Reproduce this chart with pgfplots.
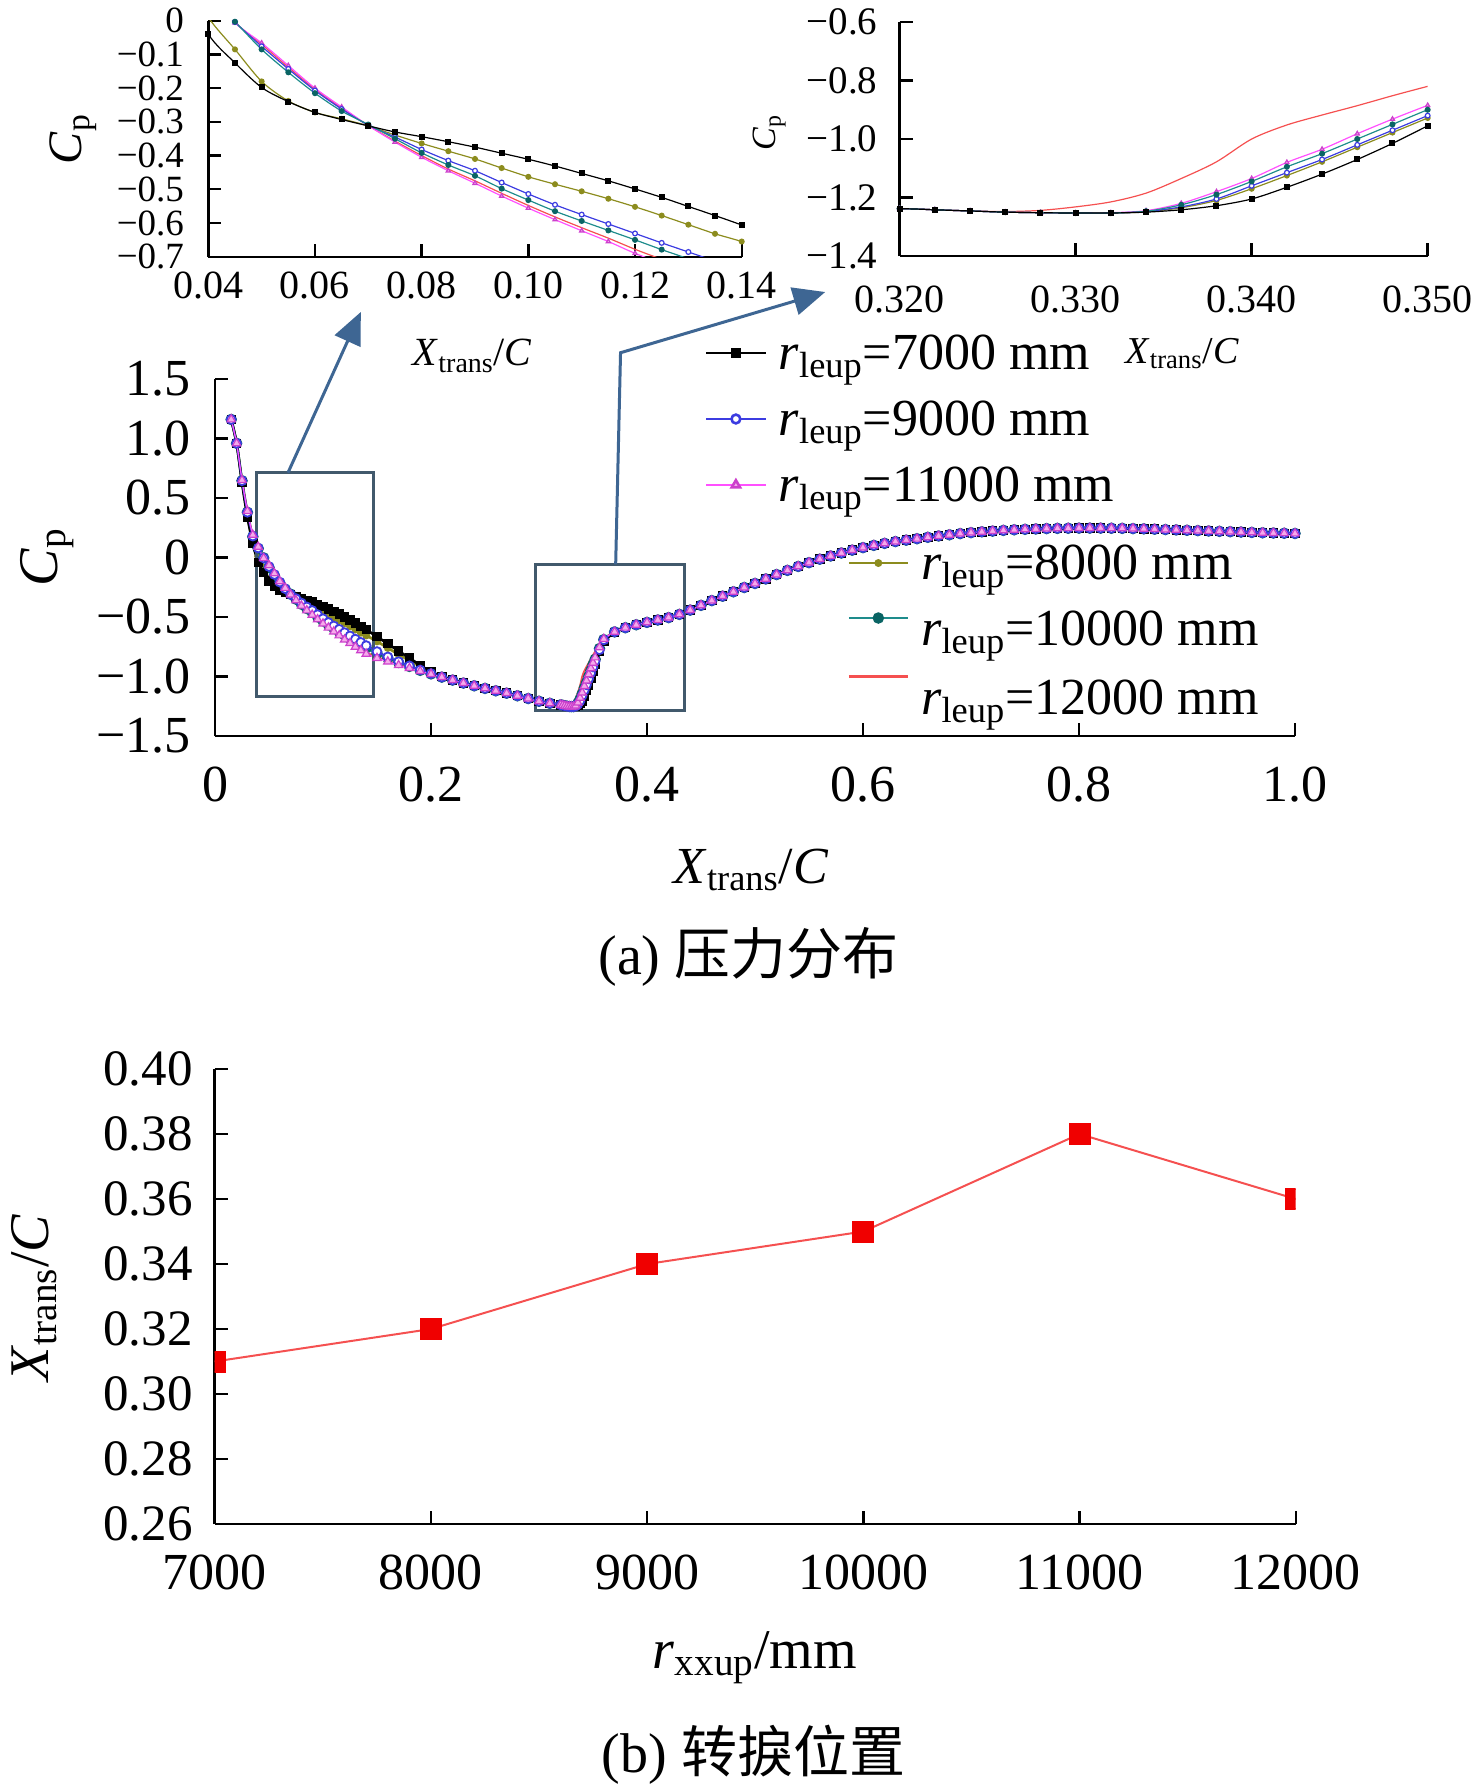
\documentclass[border=0pt]{standalone}
\usepackage{fontspec}
\setmainfont{Liberation Serif}
\newfontfamily\cjk{Noto Sans CJK SC}
\usepackage{pgfplots}
\pgfplotsset{compat=1.18}
\usepackage{pgfplotstable}
\usetikzlibrary{arrows.meta}

\newcommand{\fs}[1]{\fontsize{#1}{#1}\selectfont}

\definecolor{c7}{RGB}{0,0,0}
\definecolor{c8}{RGB}{140,140,30}
\definecolor{c9}{RGB}{60,60,225}
\definecolor{c10}{RGB}{30,140,140}
\definecolor{c10m}{RGB}{10,100,100}
\definecolor{c11}{RGB}{255,80,255}
\definecolor{c11m}{RGB}{245,170,235}
\definecolor{c12}{RGB}{245,80,80}
\definecolor{boxc}{RGB}{65,89,108}
\definecolor{arrc}{RGB}{62,102,147}
\definecolor{redm}{RGB}{240,0,0}

% x, 7000, 8000, 9000, 10000, 11000, 12000 mm
\pgfplotstableread{
x      r7     r8     r9     r10    r11    r12
0.015  1.160  1.160  1.160  1.160  1.160  1.160
0.020  0.960  0.960  0.960  0.960  0.960  0.960
0.025  0.630  0.640  0.645  0.645  0.650  0.650
0.030  0.340  0.360  0.380  0.380  0.390  0.390
0.035  0.120  0.150  0.180  0.175  0.190  0.185
0.040  -0.040 0.010  0.080  0.075  0.090  0.085
0.045  -0.125 -0.085 -0.004 -0.003 -0.006 -0.005
0.050  -0.198 -0.180 -0.076 -0.085 -0.066 -0.070
0.055  -0.240 -0.238 -0.143 -0.153 -0.133 -0.138
0.060  -0.272 -0.272 -0.207 -0.215 -0.200 -0.203
0.065  -0.293 -0.291 -0.262 -0.268 -0.256 -0.259
0.070  -0.312 -0.312 -0.310 -0.308 -0.311 -0.311
0.075  -0.330 -0.339 -0.345 -0.350 -0.360 -0.357
0.080  -0.344 -0.364 -0.382 -0.392 -0.405 -0.400
0.085  -0.359 -0.387 -0.415 -0.428 -0.445 -0.440
0.090  -0.375 -0.410 -0.445 -0.460 -0.482 -0.475
0.095  -0.393 -0.437 -0.480 -0.498 -0.520 -0.512
0.100  -0.411 -0.463 -0.514 -0.532 -0.556 -0.548
0.105  -0.431 -0.485 -0.546 -0.565 -0.590 -0.582
0.110  -0.453 -0.506 -0.575 -0.594 -0.623 -0.614
0.115  -0.475 -0.528 -0.603 -0.622 -0.655 -0.645
0.120  -0.499 -0.552 -0.631 -0.650 -0.690 -0.678
0.125  -0.524 -0.578 -0.659 -0.679 -0.720 -0.708
0.130  -0.551 -0.605 -0.686 -0.706 -0.750 -0.738
0.135  -0.578 -0.632 -0.713 -0.733 -0.780 -0.768
0.140  -0.606 -0.655 -0.740 -0.760 -0.810 -0.798
0.150  -0.665 -0.705 -0.790 -0.805 -0.845 -0.835
0.160  -0.725 -0.760 -0.835 -0.845 -0.875 -0.868
0.170  -0.785 -0.815 -0.875 -0.882 -0.905 -0.900
0.180  -0.845 -0.865 -0.910 -0.915 -0.930 -0.927
0.190  -0.905 -0.915 -0.945 -0.948 -0.955 -0.953
0.200  -0.960 -0.965 -0.975 -0.978 -0.980 -0.979
0.210  -1.000 -1.005 -1.005 -1.005 -1.005 -1.005
0.220  -1.030 -1.030 -1.030 -1.030 -1.030 -1.030
0.230  -1.055 -1.055 -1.055 -1.055 -1.055 -1.055
0.240  -1.078 -1.078 -1.078 -1.078 -1.078 -1.078
0.250  -1.100 -1.100 -1.100 -1.100 -1.100 -1.100
0.260  -1.120 -1.120 -1.120 -1.120 -1.120 -1.120
0.270  -1.140 -1.140 -1.140 -1.140 -1.140 -1.140
0.280  -1.162 -1.162 -1.162 -1.162 -1.162 -1.162
0.290  -1.185 -1.185 -1.185 -1.185 -1.185 -1.185
0.300  -1.208 -1.208 -1.208 -1.208 -1.208 -1.208
0.310  -1.225 -1.225 -1.225 -1.225 -1.225 -1.225
0.320  -1.238 -1.238 -1.238 -1.238 -1.238 -1.238
0.322  -1.242 -1.242 -1.242 -1.242 -1.242 -1.242
0.324  -1.246 -1.246 -1.246 -1.246 -1.246 -1.246
0.326  -1.250 -1.250 -1.250 -1.250 -1.250 -1.248
0.328  -1.252 -1.252 -1.252 -1.252 -1.252 -1.244
0.330  -1.253 -1.253 -1.253 -1.253 -1.253 -1.232
0.332  -1.253 -1.253 -1.253 -1.253 -1.252 -1.215
0.334  -1.250 -1.249 -1.248 -1.247 -1.245 -1.185
0.336  -1.242 -1.235 -1.232 -1.225 -1.220 -1.135
0.338  -1.228 -1.210 -1.205 -1.190 -1.180 -1.078
0.340  -1.205 -1.170 -1.160 -1.145 -1.135 -1.000
0.342  -1.165 -1.125 -1.115 -1.095 -1.080 -0.952
0.344  -1.120 -1.078 -1.070 -1.050 -1.035 -0.918
0.346  -1.070 -1.028 -1.020 -1.000 -0.982 -0.886
0.348  -1.015 -0.978 -0.970 -0.950 -0.932 -0.852
0.350  -0.955 -0.928 -0.920 -0.900 -0.885 -0.820
0.352  -0.895 -0.875 -0.870 -0.855 -0.840 -0.790
0.356  -0.790 -0.780 -0.775 -0.765 -0.755 -0.730
0.360  -0.705 -0.695 -0.692 -0.690 -0.685 -0.680
0.370  -0.630 -0.625 -0.625 -0.625 -0.625 -0.625
0.380  -0.590 -0.590 -0.590 -0.590 -0.590 -0.590
0.390  -0.565 -0.565 -0.565 -0.565 -0.565 -0.565
0.400  -0.545 -0.545 -0.545 -0.545 -0.545 -0.545
0.410  -0.525 -0.525 -0.525 -0.525 -0.525 -0.525
0.420  -0.505 -0.505 -0.505 -0.505 -0.505 -0.505
0.430  -0.478 -0.478 -0.478 -0.478 -0.478 -0.478
0.440  -0.442 -0.442 -0.442 -0.442 -0.442 -0.442
0.450  -0.402 -0.402 -0.402 -0.402 -0.402 -0.402
0.460  -0.362 -0.362 -0.362 -0.362 -0.362 -0.362
0.470  -0.325 -0.325 -0.325 -0.325 -0.325 -0.325
0.480  -0.288 -0.288 -0.288 -0.288 -0.288 -0.288
0.490  -0.252 -0.252 -0.252 -0.252 -0.252 -0.252
0.500  -0.218 -0.218 -0.218 -0.218 -0.218 -0.218
0.510  -0.180 -0.180 -0.180 -0.180 -0.180 -0.180
0.520  -0.143 -0.143 -0.143 -0.143 -0.143 -0.143
0.530  -0.108 -0.108 -0.108 -0.108 -0.108 -0.108
0.540  -0.075 -0.075 -0.075 -0.075 -0.075 -0.075
0.550  -0.043 -0.043 -0.043 -0.043 -0.043 -0.043
0.560  -0.014 -0.014 -0.014 -0.014 -0.014 -0.014
0.570  0.013  0.013  0.013  0.013  0.013  0.013
0.580  0.038  0.038  0.038  0.038  0.038  0.038
0.590  0.062  0.062  0.062  0.062  0.062  0.062
0.600  0.083  0.083  0.083  0.083  0.083  0.083
0.610  0.102  0.102  0.102  0.102  0.102  0.102
0.620  0.119  0.119  0.119  0.119  0.119  0.119
0.630  0.134  0.134  0.134  0.134  0.134  0.134
0.640  0.146  0.146  0.146  0.146  0.146  0.146
0.650  0.158  0.158  0.158  0.158  0.158  0.158
0.660  0.170  0.170  0.170  0.170  0.170  0.170
0.670  0.181  0.181  0.181  0.181  0.181  0.181
0.680  0.191  0.191  0.191  0.191  0.191  0.191
0.690  0.201  0.201  0.201  0.201  0.201  0.201
0.700  0.209  0.209  0.209  0.209  0.209  0.209
0.710  0.216  0.216  0.216  0.216  0.216  0.216
0.720  0.222  0.222  0.222  0.222  0.222  0.222
0.730  0.228  0.228  0.228  0.228  0.228  0.228
0.740  0.233  0.233  0.233  0.233  0.233  0.233
0.750  0.237  0.237  0.237  0.237  0.237  0.237
0.760  0.240  0.240  0.240  0.240  0.240  0.240
0.770  0.243  0.243  0.243  0.243  0.243  0.243
0.780  0.245  0.245  0.245  0.245  0.245  0.245
0.790  0.246  0.246  0.246  0.246  0.246  0.246
0.800  0.247  0.247  0.247  0.247  0.247  0.247
0.810  0.247  0.247  0.247  0.247  0.247  0.247
0.820  0.247  0.247  0.247  0.247  0.247  0.247
0.830  0.246  0.246  0.246  0.246  0.246  0.246
0.840  0.245  0.245  0.245  0.245  0.245  0.245
0.850  0.243  0.243  0.243  0.243  0.243  0.243
0.860  0.241  0.241  0.241  0.241  0.241  0.241
0.870  0.238  0.238  0.238  0.238  0.238  0.238
0.880  0.235  0.235  0.235  0.235  0.235  0.235
0.890  0.232  0.232  0.232  0.232  0.232  0.232
0.900  0.229  0.229  0.229  0.229  0.229  0.229
0.910  0.226  0.226  0.226  0.226  0.226  0.226
0.920  0.223  0.223  0.223  0.223  0.223  0.223
0.930  0.220  0.220  0.220  0.220  0.220  0.220
0.940  0.217  0.217  0.217  0.217  0.217  0.217
0.950  0.214  0.214  0.214  0.214  0.214  0.214
0.960  0.211  0.211  0.211  0.211  0.211  0.211
0.970  0.208  0.208  0.208  0.208  0.208  0.208
0.980  0.206  0.206  0.206  0.206  0.206  0.206
0.990  0.204  0.204  0.204  0.204  0.204  0.204
1.000  0.202  0.202  0.202  0.202  0.202  0.202
}\cpdata

\pgfplotstableread{
r     xt
7000  0.31
8000  0.32
9000  0.34
10000 0.35
11000 0.38
12000 0.36
}\transdata

\pgfplotsset{
  s7/.style={color=c7, line width=1.3pt, smooth, mark=square*, mark size=1.7pt, mark options={fill=black}},
  s8/.style={color=c8, line width=1.3pt, smooth, mark=*, mark size=1.3pt},
  s9/.style={color=c9, line width=0.9pt, smooth, mark=*, mark size=2.2pt, mark options={fill=white}},
  s10/.style={color=c10, line width=1.3pt, smooth, mark=*, mark size=2.2pt, mark options={fill=c10m, draw=c10m}},
  s11/.style={color=c11, line width=0.6pt, smooth, mark=triangle*, mark size=2.4pt, mark options={fill=c11m, draw=c11!80!black}},
  s12/.style={color=c12, line width=0.9pt, smooth, mark=none},
  leg10/.style={legend image code/.code={\draw[mark repeat=2,mark phase=2,##1] plot coordinates {(0cm,5.5pt) (0.52cm,5.5pt) (1.04cm,5.5pt)};}},
  leg12/.style={legend image code/.code={\draw[##1] (0cm,11pt) -- (1.04cm,11pt);}},
  common/.style={scale only axis, axis lines=left, axis line style={line width=1.2pt, -},
    tick align=inside, major tick length=6.5pt, tick style={line width=1.2pt, black},
    minor tick num=0, scaled ticks=false},
  mainax/.style={common, at={(107.5pt,-368pt)}, anchor=south west, width=540pt, height=178.5pt,
    xmin=0, xmax=1, ymin=-1.5, ymax=1.5, clip=false},
  mylegend/.style={legend cell align=left,
    legend image code/.code={\draw[mark repeat=2,mark phase=2,##1] plot coordinates {(0cm,0cm) (0.52cm,0cm) (1.04cm,0cm)};},
    legend image post style={line width=1.3pt},
    legend style={anchor=north west, draw=none, fill=none, inner sep=0pt, outer sep=0pt,
      row sep=13pt, column sep=6pt, font=\fs{26},
      nodes={inner sep=0pt, text height=18pt, text depth=2pt}}},
}

\begin{document}
\begin{tikzpicture}
\useasboundingbox (0,0) rectangle (738pt,-894.5pt);

% ---- overlay axis: 8000, 10000, 12000 ----
\begin{axis}[mainax, hide axis, mylegend, legend style={at={(0.5856,0.5406)}}]
\addplot[s8] table[x=x, y=r8] {\cpdata};
\addlegendentry{\textit{r}\textsubscript{leup}=8000 mm}
\addplot[s10, leg10] table[x=x, y=r10] {\cpdata};
\addlegendentry{\textit{r}\textsubscript{leup}=10000 mm}
\addplot[s12, leg12] table[x=x, y=r12] {\cpdata};
\addlegendentry{\textit{r}\textsubscript{leup}=12000 mm}
\end{axis}

% ---- main axis (a) ----
\begin{axis}[mainax, mylegend, legend style={at={(0.4537,1.1289)}},
  xtick={0,0.2,0.4,0.6,0.8,1.0}, xticklabels={0,0.2,0.4,0.6,0.8,1.0},
  ytick={-1.5,-1,-0.5,0,0.5,1,1.5}, yticklabels={−1.5,−1.0,−0.5,0,0.5,1.0,1.5},
  xticklabel style={font=\fs{26}, inner sep=0pt, yshift=-15.5pt},
  yticklabel style={font=\fs{26}, inner sep=0pt, xshift=-12pt},
  xlabel={\textit{X}\textsubscript{trans}/\textit{C}},
  xlabel style={at={(axis description cs:0.4963,-0.412)}, anchor=base, font=\fs{26}, inner sep=0pt},
  ylabel={\textit{C}\textsubscript{p}},
  ylabel style={at={(axis description cs:-0.1454,0.4997)}, anchor=base, font=\fs{28}, inner sep=0pt},
]
\addplot[s7] table[x=x, y=r7] {\cpdata};
\addlegendentry{\textit{r}\textsubscript{leup}=7000 mm}
\addplot[s9] table[x=x, y=r9] {\cpdata};
\addlegendentry{\textit{r}\textsubscript{leup}=9000 mm}
\addplot[s11] table[x=x, y=r11] {\cpdata};
\addlegendentry{\textit{r}\textsubscript{leup}=11000 mm}
\draw[boxc, line width=1.5pt] (axis cs:0.038,-1.164) rectangle (axis cs:0.1465,0.713);
\draw[boxc, line width=1.5pt] (axis cs:0.2969,-1.287) rectangle (axis cs:0.435,-0.057);
\draw[arrc, line width=1.5pt, -{Triangle[length=16pt,width=14pt]}] (axis cs:0.0676,0.713) -- (axis cs:0.135,2.063);
\draw[arrc, line width=1.5pt, -{Triangle[length=16pt,width=14pt]}] (axis cs:0.371,-0.057) -- (axis cs:0.3755,1.721) -- (axis cs:0.565,2.231);
\node[font=\fs{28}, anchor=center, inner sep=0pt] at (axis description cs:0.494,-0.619) {(a) {\cjk 压力分布}};
\end{axis}

% ---- inset 1 ----
\begin{axis}[common, at={(104.15pt,-128.35pt)}, anchor=south west, width=266.7pt, height=118pt,
  xmin=0.04, xmax=0.14, ymin=-0.7, ymax=0,
  xtick={0.04,0.06,0.08,0.10,0.12,0.14}, xticklabels={0.04,0.06,0.08,0.10,0.12,0.14},
  ytick={-0.7,-0.6,-0.5,-0.4,-0.3,-0.2,-0.1,0}, yticklabels={−0.7,−0.6,−0.5,−0.4,−0.3,−0.2,−0.1,0},
  xticklabel style={font=\fs{20}, inner sep=0pt, yshift=-7.5pt},
  yticklabel style={font=\fs{18.5}, inner sep=0pt, xshift=-12pt},
  xlabel={\textit{X}\textsubscript{trans}/\textit{C}},
  xlabel style={at={(axis description cs:0.495,-0.463)}, anchor=base, font=\fs{20}, inner sep=0pt},
  ylabel={\textit{C}\textsubscript{p}},
  ylabel style={at={(axis description cs:-0.2374,0.499)}, anchor=base, font=\fs{24}, inner sep=0pt},
  every axis plot post/.append style={line width=0.6pt, mark size=1.2pt},
]
\addplot[s12] table[x=x, y=r12] {\cpdata};
\addplot[s11] table[x=x, y=r11] {\cpdata};
\addplot[s8] table[x=x, y=r8] {\cpdata};
\addplot[s9] table[x=x, y=r9] {\cpdata};
\addplot[s10] table[x=x, y=r10] {\cpdata};
\addplot[s7] table[x=x, y=r7] {\cpdata};
\end{axis}

% ---- inset 2 ----
\begin{axis}[common, at={(449.8pt,-128pt)}, anchor=south west, width=264pt, height=117pt,
  xmin=0.32, xmax=0.35, ymin=-1.4, ymax=-0.6,
  xtick={0.32,0.33,0.34,0.35}, xticklabels={0.320,0.330,0.340,0.350},
  ytick={-1.4,-1.2,-1.0,-0.8,-0.6}, yticklabels={−1.4,−1.2,−1.0,−0.8,−0.6},
  xticklabel style={font=\fs{20}, inner sep=0pt, yshift=-14.5pt},
  yticklabel style={font=\fs{19.5}, inner sep=0pt, xshift=-11pt},
  xlabel={\textit{X}\textsubscript{trans}/\textit{C}},
  xlabel style={at={(axis description cs:0.535,-0.46)}, anchor=base, font=\fs{19}, inner sep=0pt},
  ylabel={\textit{C}\textsubscript{p}},
  ylabel style={at={(axis description cs:-0.2354,0.528)}, anchor=base, font=\fs{17}, inner sep=0pt},
  every axis plot post/.append style={line width=0.6pt, mark size=1.2pt},
]
\addplot[s12] table[x=x, y=r12] {\cpdata};
\addplot[s11] table[x=x, y=r11] {\cpdata};
\addplot[s8] table[x=x, y=r8] {\cpdata};
\addplot[s9] table[x=x, y=r9] {\cpdata};
\addplot[s10] table[x=x, y=r10] {\cpdata};
\addplot[s7] table[x=x, y=r7] {\cpdata};
\end{axis}

% ---- (b) transition position ----
\begin{axis}[common, at={(107.35pt,-762pt)}, anchor=south west, width=540.5pt, height=227.5pt,
  xmin=7000, xmax=12000, ymin=0.26, ymax=0.40,
  clip mode=individual, clip marker paths=true,
  xtick={7000,8000,9000,10000,11000,12000}, xticklabels={7000,8000,9000,10000,11000,12000},
  ytick={0.26,0.28,0.30,0.32,0.34,0.36,0.38,0.40}, yticklabels={0.26,0.28,0.30,0.32,0.34,0.36,0.38,0.40},
  xticklabel style={font=\fs{26}, inner sep=0pt, yshift=-15.3pt},
  yticklabel style={font=\fs{25.5}, inner sep=0pt, xshift=-10.8pt},
  xlabel={\textit{r}\textsubscript{xxup}/mm},
  xlabel style={at={(axis description cs:0.4998,-0.3165)}, anchor=base, font=\fs{28}, inner sep=0pt},
  ylabel={\textit{X}\textsubscript{trans}/\textit{C}},
  ylabel style={at={(axis description cs:-0.1533,0.497)}, anchor=base, font=\fs{28}, inner sep=0pt},
]
\addplot[color=c12, line width=1pt, mark=square*, mark size=5pt, mark options={fill=redm, draw=redm}] table[x=r, y=xt] {\transdata};
\end{axis}
\node[font=\fs{28}, anchor=center, inner sep=0pt] at (376.7pt,-877.5pt) {(b) {\cjk 转捩位置}};
\end{tikzpicture}
\end{document}
